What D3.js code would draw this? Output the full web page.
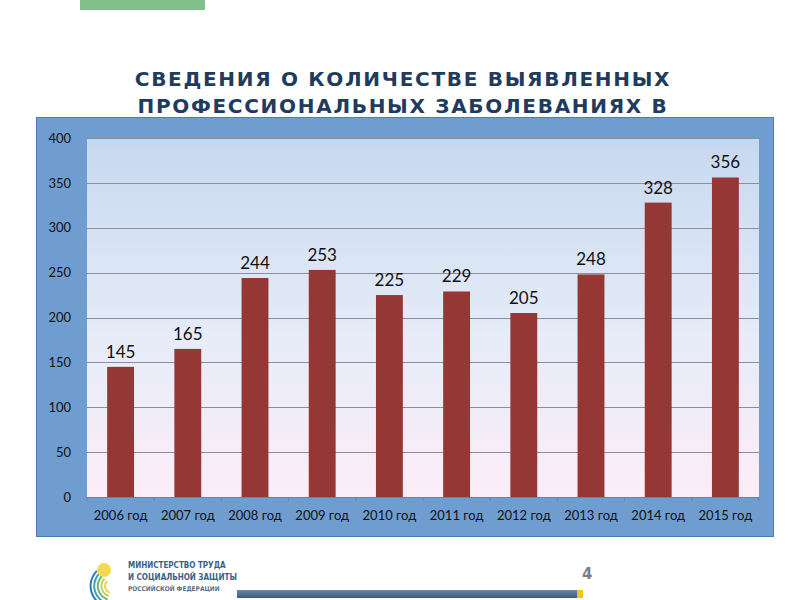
<!DOCTYPE html>
<html><head><meta charset="utf-8">
<script src="https://cdn.jsdelivr.net/npm/d3@7"></script>
<style>body{margin:0;background:#fff}svg{display:block}</style>
</head><body>
<svg id="c" width="800" height="600"></svg>
<script>
const categories = ["2006 год","2007 год","2008 год","2009 год","2010 год","2011 год","2012 год","2013 год","2014 год","2015 год"];
const values = [145,165,244,253,225,229,205,248,328,356];
const yTicks = [0,50,100,150,200,250,300,350,400];
const titleLines = ["СВЕДЕНИЯ О КОЛИЧЕСТВЕ ВЫЯВЛЕННЫХ","ПРОФЕССИОНАЛЬНЫХ ЗАБОЛЕВАНИЯХ В"];
const logoLines = ["МИНИСТЕРСТВО ТРУДА","И СОЦИАЛЬНОЙ ЗАЩИТЫ","РОССИЙСКОЙ ФЕДЕРАЦИИ"];
const pageNumber = "4";

const svg = d3.select("#c");
const defs = svg.append("defs");
const pg = defs.append("linearGradient").attr("id","plotg").attr("x1",0).attr("y1",0).attr("x2",0).attr("y2",1);
pg.append("stop").attr("offset","0%").attr("stop-color","#c6d8f0");
pg.append("stop").attr("offset","55%").attr("stop-color","#e6ecf8");
pg.append("stop").attr("offset","100%").attr("stop-color","#fcedf8");
const bg = defs.append("linearGradient").attr("id","barg").attr("x1",0).attr("y1",0).attr("x2",0).attr("y2",1);
bg.append("stop").attr("offset","0%").attr("stop-color","#6a8aab");
bg.append("stop").attr("offset","100%").attr("stop-color","#3d5a78");

// top green bar
svg.append("rect").attr("x",80).attr("y",0).attr("width",125).attr("height",10).attr("fill","#82c08a");

// title
svg.append("g").selectAll("text").data(titleLines).join("text")
  .attr("x",403).attr("y",(d,i)=>86+i*27).attr("text-anchor","middle")
  .attr("font-family","DejaVu Sans").attr("font-weight","bold").attr("font-size",20)
  .attr("letter-spacing",1.7).attr("fill","#1f3b5e").text(d=>d);

// panel
svg.append("rect").attr("x",36.5).attr("y",117.5).attr("width",737).attr("height",419)
  .attr("fill","#6f9dd0").attr("stroke","#4f7cb0").attr("stroke-width",1);

const m = {l:87, r:759, t:138, b:497};
const x = d3.scaleBand().domain(categories).range([m.l,m.r]).paddingInner(0.6).paddingOuter(0.3);
const xb = d3.scaleBand().domain(categories).range([m.l,m.r]);
const y = d3.scaleLinear().domain([0,400]).range([m.b,m.t]);

svg.append("rect").attr("x",m.l).attr("y",m.t).attr("width",m.r-m.l).attr("height",m.b-m.t).attr("fill","url(#plotg)");

// gridlines
svg.append("g").selectAll("line").data(yTicks.filter(t=>t>0)).join("line")
  .attr("x1",m.l).attr("x2",m.r).attr("y1",d=>Math.round(y(d))+0.5).attr("y2",d=>Math.round(y(d))+0.5)
  .attr("stroke","#8a8f99").attr("stroke-width",1);

// y labels
const yAxis = svg.append("g").attr("transform",`translate(${m.l},0)`)
  .call(d3.axisLeft(y).tickValues(yTicks).tickSize(0).tickPadding(16));
yAxis.select(".domain").remove();
yAxis.selectAll("text").attr("font-family","Lato, 'Open Sans', sans-serif").attr("font-size",13).attr("fill","#111");

// bars
svg.append("g").selectAll("rect").data(values).join("rect")
  .attr("x",(d,i)=>x(categories[i])).attr("width",x.bandwidth())
  .attr("y",d=>y(d)).attr("height",d=>y(0)-y(d)).attr("fill","#953735");

// value labels
svg.append("g").selectAll("text").data(values).join("text")
  .attr("x",(d,i)=>x(categories[i])+x.bandwidth()/2).attr("y",d=>y(d)-9)
  .attr("text-anchor","middle").attr("font-family","Lato, 'Open Sans', sans-serif").attr("font-size",17).attr("fill","#111")
  .text(d=>d);

// x axis
const xAxis = svg.append("g").attr("transform",`translate(0,${m.b})`)
  .call(d3.axisBottom(xb).tickSize(0).tickPadding(14));
xAxis.select(".domain").attr("stroke","#5b86b8");
xAxis.selectAll("text").attr("font-family","Lato, 'Open Sans', sans-serif").attr("font-size",13).attr("fill","#111");
svg.append("g").selectAll("line").data(categories.concat(["end"])).join("line")
  .attr("x1",(d,i)=>m.l+i*xb.bandwidth()).attr("x2",(d,i)=>m.l+i*xb.bandwidth())
  .attr("y1",m.b).attr("y2",m.b+4).attr("stroke","#5b86b8");

// logo
const lg = svg.append("g").attr("transform","translate(100,578)");
const arcColors = ["#f4d34a","#b8d36a","#6cb96b","#3fa0b8","#2a7bbf"];
arcColors.forEach((c,i)=>{
  lg.append("path").attr("d",d3.arc()({innerRadius:6+i*3.6,outerRadius:8+i*3.6,startAngle:-Math.PI*0.9,endAngle:-Math.PI*0.25}))
    .attr("fill",c).attr("transform","translate(12,8)");
});
lg.append("circle").attr("cx",4).attr("cy",-8).attr("r",7).attr("fill","#f6d94e");
svg.append("g").selectAll("text").data(logoLines).join("text")
  .attr("x",128).attr("y",(d,i)=>568+i*11.5).attr("font-family","'DejaVu Sans Condensed', 'DejaVu Sans', sans-serif")
  .attr("font-weight","bold").attr("font-size",(d,i)=>i<2?8:6.5).attr("fill",(d,i)=>i<2?"#3a5f88":"#5b6f86").text(d=>d);

// bottom bar
svg.append("rect").attr("x",237).attr("y",590).attr("width",340).attr("height",8).attr("fill","url(#barg)");
svg.append("rect").attr("x",577).attr("y",590).attr("width",6).attr("height",8).attr("fill","#f5c518");
svg.append("text").attr("x",582).attr("y",579).attr("font-family","DejaVu Sans").attr("font-weight","bold")
  .attr("font-size",15).attr("fill","#808080").text(pageNumber);
</script>
</body></html>
